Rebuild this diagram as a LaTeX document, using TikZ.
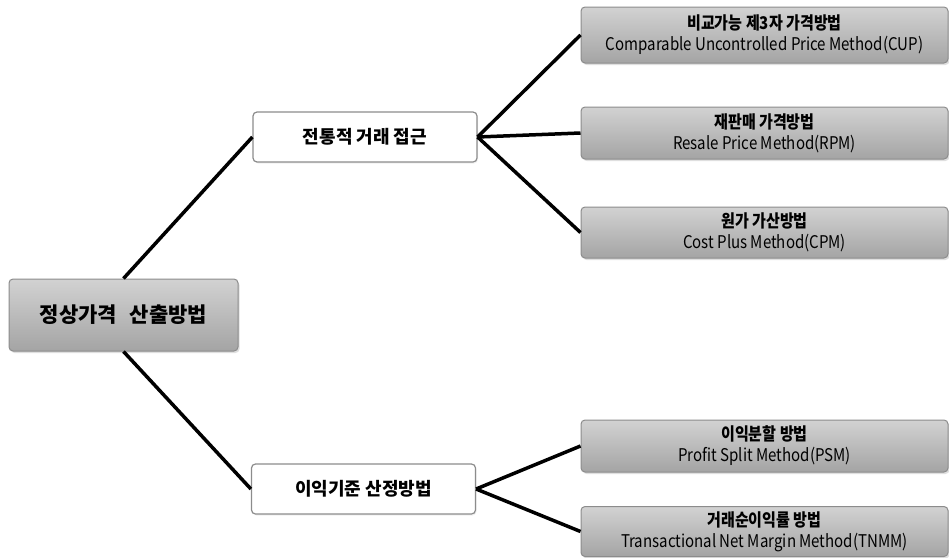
\documentclass[tikz,border=0pt]{standalone}
\usepackage{fontspec}
\setmainfont{Noto Sans CJK KR}
\newfontfamily\condfont[FakeStretch=0.86]{Noto Sans CJK KR}
\usetikzlibrary{shadows}
\definecolor{boxline}{HTML}{8C8C8C}
\definecolor{shadetop}{HTML}{D2D2D2}
\definecolor{shadebot}{HTML}{A4A4A4}
\tikzset{
  graybox/.style={draw=boxline, line width=1pt, rounded corners=4pt,
    top color=shadetop, bottom color=shadebot, align=center, inner sep=0pt,
    drop shadow={shadow xshift=1.5pt, shadow yshift=-2pt, opacity=0.25}},
  rootbox/.style={graybox, minimum width=229pt, minimum height=72pt,
    font=\fontsize{21}{24}\selectfont\bfseries},
  leafbox/.style={graybox, minimum width=367pt,
    font=\condfont\fontsize{17.5}{21}\selectfont},
  midbox/.style={draw=boxline, line width=1.2pt, rounded corners=4pt, fill=white,
    minimum width=224pt, minimum height=50pt, inner sep=0pt,
    font=\fontsize{18}{20}\selectfont\bfseries,
    drop shadow={shadow xshift=1pt, shadow yshift=-1.5pt, opacity=0.12}},
  conn/.style={line width=3.5pt, black}
}
\begin{document}
\begin{tikzpicture}[x=1pt,y=1pt]
\useasboundingbox (0,0) rectangle (949,-557);
\node[rootbox] (root) at (123.5,-315) {정상가격\hspace{0.6em}산출방법};
\node[midbox] (trad) at (365,-137) {전통적\ 거래\ 접근};
\node[midbox] (prof) at (363.5,-489) {이익기준\ 산정방법};
\node[leafbox, minimum height=56pt] (cup) at (764.5,-35) {{\bfseries 비교가능\ 제3자\ 가격방법}\\Comparable Uncontrolled Price Method(CUP)};
\node[leafbox, minimum height=52pt] (rpm) at (764.5,-133) {{\bfseries 재판매\ 가격방법}\\Resale Price Method(RPM)};
\node[leafbox, minimum height=51pt] (cpm) at (764.5,-232.5) {{\bfseries 원가\ 가산방법}\\Cost Plus Method(CPM)};
\node[leafbox, minimum height=52pt] (psm) at (764.5,-446) {{\bfseries 이익분할\ 방법}\\Profit Split Method(PSM)};
\node[leafbox, minimum height=50pt] (tnmm) at (764.5,-531.5) {{\bfseries 거래순이익률\ 방법}\\Transactional Net Margin Method(TNMM)};
\draw[conn] (root.north) -- (trad.west);
\draw[conn] (root.south) -- (prof.west);
\draw[conn] (trad.east) -- (cup.west);
\draw[conn] (trad.east) -- (rpm.west);
\draw[conn] (trad.east) -- (cpm.west);
\draw[conn] (prof.east) -- (psm.west);
\draw[conn] (prof.east) -- (tnmm.west);
\end{tikzpicture}
\end{document}
